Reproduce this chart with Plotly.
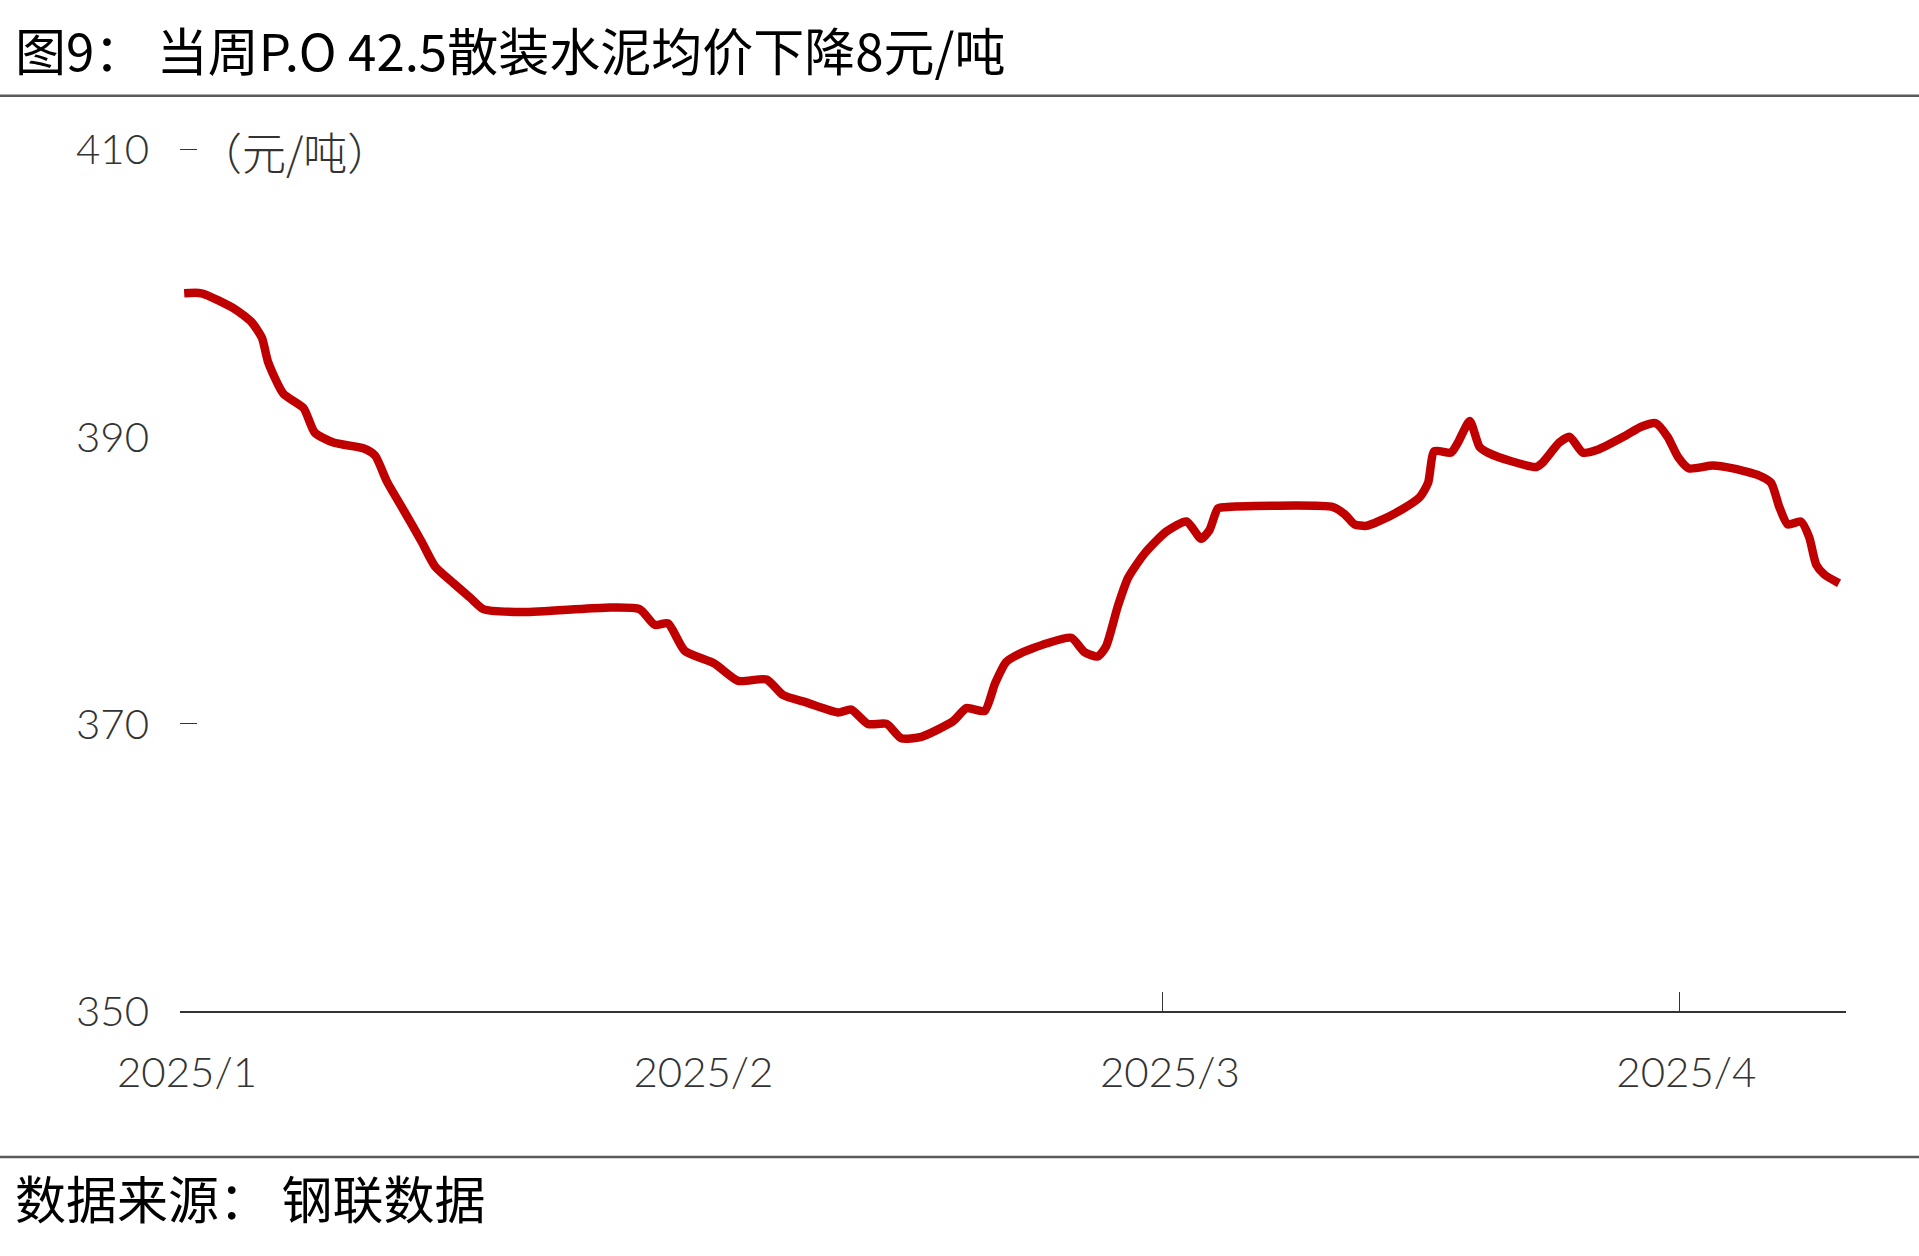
import plotly.graph_objects as go

# ---------------- data ----------------
dates = [
    "2025-01-01 06:00", "2025-01-02 07:00", "2025-01-04 07:00", "2025-01-05 07:00",
    "2025-01-05 22:00", "2025-01-06 07:00", "2025-01-07 05:00", "2025-01-08 10:00",
    "2025-01-09 02:00", "2025-01-10 05:00", "2025-01-12 00:00", "2025-01-12 17:00",
    "2025-01-13 10:00", "2025-01-14 10:00", "2025-01-15 12:00", "2025-01-16 07:00",
    "2025-01-17 10:00", "2025-01-18 10:00", "2025-01-19 05:00", "2025-01-21 14:00",
    "2025-01-26 12:00", "2025-01-28 14:00", "2025-01-29 12:00", "2025-01-30 07:00",
    "2025-01-31 07:00", "2025-02-02 02:00", "2025-02-03 12:00", "2025-02-05 05:00",
    "2025-02-06 05:00", "2025-02-07 14:00", "2025-02-09 12:00", "2025-02-10 07:00",
    "2025-02-11 07:00", "2025-02-12 10:00", "2025-02-13 07:00", "2025-02-14 12:00",
    "2025-02-16 10:00", "2025-02-17 05:00", "2025-02-18 07:00", "2025-02-18 22:00",
    "2025-02-19 14:00", "2025-02-20 10:00", "2025-02-22 00:00", "2025-02-23 12:00",
    "2025-02-24 07:00", "2025-02-25 02:00", "2025-02-25 14:00", "2025-02-26 07:00",
    "2025-02-26 22:00", "2025-02-27 22:00", "2025-03-01 05:00", "2025-03-02 10:00",
    "2025-03-03 07:00", "2025-03-03 19:00", "2025-03-04 07:00", "2025-03-04 17:00",
    "2025-03-11 05:00", "2025-03-11 22:00", "2025-03-12 12:00", "2025-03-13 05:00",
    "2025-03-13 22:00", "2025-03-15 07:00", "2025-03-16 10:00", "2025-03-16 22:00",
    "2025-03-17 07:00", "2025-03-18 07:00", "2025-03-18 17:00", "2025-03-19 10:00",
    "2025-03-20 00:00", "2025-03-20 12:00", "2025-03-21 22:00", "2025-03-23 10:00",
    "2025-03-23 19:00", "2025-03-24 19:00", "2025-03-25 10:00", "2025-03-26 05:00",
    "2025-03-27 02:00", "2025-03-28 19:00", "2025-03-29 17:00", "2025-03-30 14:00",
    "2025-03-31 07:00", "2025-03-31 22:00", "2025-04-01 14:00", "2025-04-03 00:00",
    "2025-04-04 05:00", "2025-04-05 19:00", "2025-04-06 12:00", "2025-04-07 00:00",
    "2025-04-07 12:00", "2025-04-08 07:00", "2025-04-08 19:00", "2025-04-09 05:00",
    "2025-04-09 17:00", "2025-04-10 14:00",
]
prices = [
    400.0, 400.0, 398.9, 398.0,
    396.9, 395.2, 393.0, 392.0,
    390.3, 389.6, 389.2, 388.7,
    386.9, 384.9, 382.7, 381.0,
    379.8, 378.8, 378.0, 377.8,
    378.1, 378.0, 376.9, 377.0,
    375.1, 374.2, 373.0, 373.1,
    372.0, 371.5, 370.8, 371.0,
    370.0, 370.0, 369.0, 369.1,
    370.2, 371.1, 370.9, 372.8,
    374.3, 374.9, 375.6, 376.0,
    375.0, 374.7, 375.4, 378.2,
    380.2, 381.9, 383.4, 384.1,
    382.9, 383.5, 385.0, 385.1,
    385.1, 384.6, 383.9, 383.8,
    384.1, 384.9, 385.8, 386.8,
    389.0, 388.9, 389.6, 391.1,
    389.3, 388.9, 388.3, 387.9,
    388.2, 389.6, 390.0, 388.9,
    389.1, 390.1, 390.7, 390.95,
    390.0, 388.6, 387.8, 388.0,
    387.8, 387.3, 386.8, 385.1,
    383.9, 384.1, 383.0, 381.1,
    380.4, 379.8,
]

x_tick_vals = ["2025-01-01", "2025-02-01", "2025-03-01", "2025-04-01"]
x_tick_text = ["2025/1", "2025/2", "2025/3", "2025/4"]
x_mark_vals = ["2025-03-01", "2025-04-01"]
x_range = ["2025-01-01", "2025-04-11"]

y_tick_vals = [350, 370, 390, 410]
y_tick_text = ["350", "370", "390", "410"]
y_mark_vals = [370, 410]
y_top_pad = 0.4
y_range = [350, 410 + y_top_pad]

title_text = "图9： 当周P.O 42.5散装水泥均价下降8元/吨"
unit_text = "（元/吨）"
source_text = "数据来源： 钢联数据"

# ---------------- layout geometry ----------------
W, H = 1919, 1256
PX_PER_UNIT = 861 / 60.0
ML, MR, MB = 180, 73, 245
MT = 150 - y_top_pad * PX_PER_UNIT
PW, PH = W - ML - MR, H - MT - MB


def px_x(px):
    return (px - ML) / PW


def px_y(py):
    return (H - MB - py) / PH


LINE_RED = "#C00000"
AXIS_GREY = "#333333"
TICK_FONT = dict(family="Lato, 'Noto Sans CJK SC', sans-serif", size=42, color="#333333", weight=300)
CJK_FONT = "'Noto Sans CJK SC', 'Noto Sans', sans-serif"

fig = go.Figure()
fig.add_trace(go.Scatter(
    x=dates, y=prices, mode="lines",
    line=dict(color=LINE_RED, width=8.5, shape="spline", smoothing=0.6),
    hoverinfo="skip", showlegend=False,
))
# empty trace so the overlay axes (tick marks only) are drawn
fig.add_trace(go.Scatter(x=[], y=[], xaxis="x2", yaxis="y2", showlegend=False, hoverinfo="skip"))

fig.update_layout(
    width=W, height=H,
    margin=dict(l=ML, r=MR, t=MT, b=MB, pad=0),
    paper_bgcolor="white", plot_bgcolor="white",
    showlegend=False,
    xaxis=dict(
        type="date", range=x_range,
        tickmode="array", tickvals=x_tick_vals, ticktext=x_tick_text,
        ticks="", showgrid=False, zeroline=False,
        showline=True, linecolor=AXIS_GREY, linewidth=1.5,
        tickfont=TICK_FONT, ticklabelstandoff=24, ticklabelshift=7,
    ),
    yaxis=dict(
        range=y_range,
        tickmode="array", tickvals=y_tick_vals, ticktext=y_tick_text,
        ticks="", showgrid=False, zeroline=False, showline=False,
        tickfont=TICK_FONT, ticklabelstandoff=30,
    ),
    xaxis2=dict(
        type="date", overlaying="x", matches="x", range=x_range,
        tickmode="array", tickvals=x_mark_vals, showticklabels=False,
        ticks="inside", ticklen=19, tickwidth=1.2, tickcolor=AXIS_GREY,
        showgrid=False, zeroline=False, showline=False, side="bottom",
    ),
    yaxis2=dict(
        overlaying="y", matches="y", range=y_range,
        tickmode="array", tickvals=y_mark_vals, showticklabels=False,
        ticks="inside", ticklen=17, tickwidth=1.2, tickcolor=AXIS_GREY,
        showgrid=False, zeroline=False, showline=False, side="left",
    ),
    annotations=[
        dict(text=title_text, xref="paper", yref="paper", x=px_x(13), y=px_y(49),
             xanchor="left", yanchor="middle", showarrow=False,
             font=dict(family=CJK_FONT, size=51, color="#000000")),
        dict(text=unit_text, xref="paper", yref="paper", x=px_x(196), y=px_y(151),
             xanchor="left", yanchor="middle", showarrow=False,
             font=dict(family=CJK_FONT, size=44, color="#333333", weight=300)),
        dict(text=source_text, xref="paper", yref="paper", x=px_x(13), y=px_y(1197),
             xanchor="left", yanchor="middle", showarrow=False,
             font=dict(family=CJK_FONT, size=51, color="#000000")),
    ],
    shapes=[
        dict(type="line", xref="paper", yref="paper", x0=px_x(0), x1=px_x(W),
             y0=px_y(96), y1=px_y(96), line=dict(color="#5a5a5a", width=2.5)),
        dict(type="line", xref="paper", yref="paper", x0=px_x(0), x1=px_x(W),
             y0=px_y(1157), y1=px_y(1157), line=dict(color="#5a5a5a", width=2.5)),
    ],
)

fig.write_html("out.html", config={"displayModeBar": False},
               post_script="document.body.style.margin='0';")
